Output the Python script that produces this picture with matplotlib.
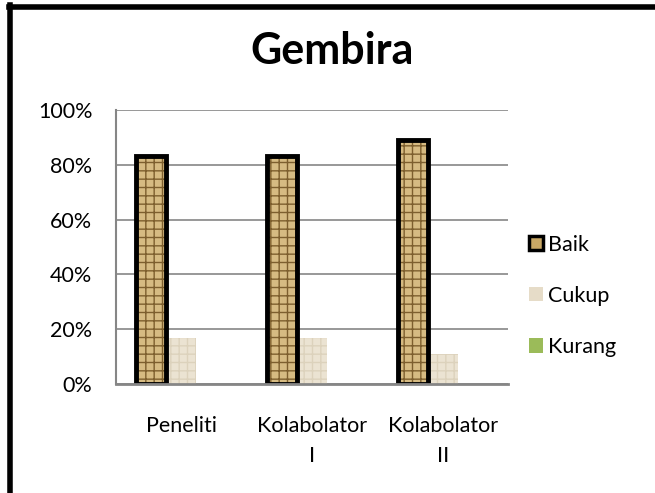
import matplotlib
matplotlib.use("Agg")
import matplotlib.pyplot as plt
import numpy as np
from matplotlib.patches import Patch
from matplotlib.lines import Line2D

categories = ["Peneliti", "Kolabolator\nI", "Kolabolator\nII"]
series_names = ["Baik", "Cukup", "Kurang"]
baik = [83.33, 83.33, 88.89]
cukup = [16.67, 16.67, 11.11]
kurang = [0.0, 0.0, 0.0]
yticks = [0, 20, 40, 60, 80, 100]
ytick_labels = ["0%", "20%", "40%", "60%", "80%", "100%"]

plt.rcParams['font.family'] = ['Lato', 'DejaVu Sans']

fig = plt.figure(figsize=(6.55, 4.93), dpi=100)
ax = fig.add_axes([0.177, 0.221, 0.599, 0.556])

x = np.arange(len(categories))
w = 0.23

# Baik: textured fill then thick black border
ax.bar(x - w, baik, w, color="#d6bb82", hatch="++", edgecolor="#7d5f2e", linewidth=0, zorder=3)
ax.bar(x - w, baik, w, fill=False, edgecolor="black", linewidth=3.5, zorder=4)
# Cukup
ax.bar(x, cukup, w, color="#ebe3d2", hatch="++", edgecolor="#dcd2bc", linewidth=0, zorder=3)
# Kurang
ax.bar(x + w, kurang, w, color="#9bbb59", linewidth=0, zorder=3)

ax.set_ylim(0, 100)
ax.set_xlim(-0.5, 2.5)
ax.set_yticks(yticks)
ax.set_yticklabels(ytick_labels, fontsize=15.5)
ax.set_xticks(x)
ax.set_xticklabels(categories, fontsize=15.5, linespacing=1.65)
ax.tick_params(axis='x', length=0, pad=23)
ax.tick_params(axis='y', length=0, pad=17)
ax.yaxis.grid(True, color="#868686", linewidth=1.2, zorder=0)
ax.set_axisbelow(True)
for s in ["top", "right"]:
    ax.spines[s].set_visible(False)
ax.spines["left"].set_color("#868686")
ax.spines["left"].set_linewidth(1.5)
ax.spines["bottom"].set_color("#868686")
ax.spines["bottom"].set_linewidth(2)
ax.spines["left"].set_zorder(5)
ax.spines["bottom"].set_zorder(5)

fig.text(0.507, 0.897, "Gembira", ha="center", va="center", fontsize=31, fontweight="bold")

handles = [
    Patch(facecolor="#c9a865", edgecolor="black", linewidth=2.5),
    Patch(facecolor="#e6dcc8", edgecolor="none"),
    Patch(facecolor="#9bbb59", edgecolor="none"),
]
leg = fig.legend(handles, series_names, loc="center left", bbox_to_anchor=(0.808, 0.4),
                 frameon=False, fontsize=15.5, handlelength=0.65, handleheight=0.65,
                 handletextpad=0.2, labelspacing=1.45, borderpad=0, borderaxespad=0)

# outer border (left and top visible)
fig.add_artist(Line2D([0.0153, 0.0153], [0, 0.99], color="black", linewidth=4, transform=fig.transFigure))
fig.add_artist(Line2D([0.013, 1.0], [0.986, 0.986], color="black", linewidth=4, transform=fig.transFigure))

fig.savefig("out.png", dpi=100, facecolor="white")
